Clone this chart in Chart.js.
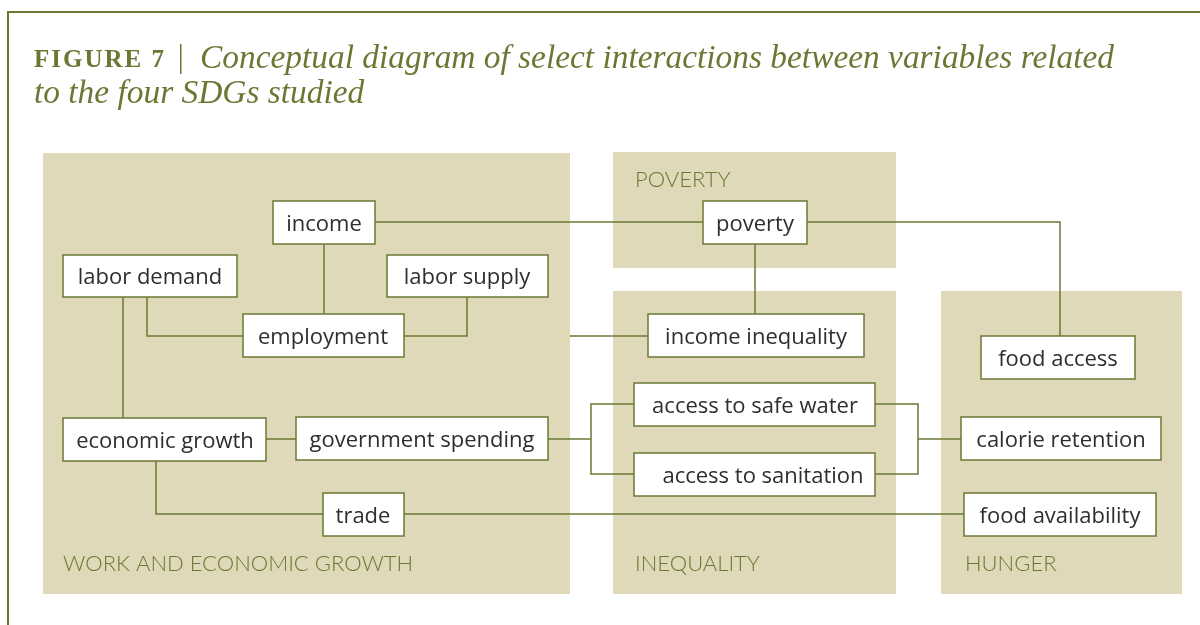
<!DOCTYPE html>
<html>
<head>
<meta charset="utf-8">
<script src="https://cdn.jsdelivr.net/npm/chart.js@4.4.1/dist/chart.umd.min.js"></script>
<style>
html, body { margin: 0; padding: 0; background: #fff; }
#wrap { position: relative; width: 1200px; height: 625px; overflow: hidden; }
</style>
</head>
<body>
<div id="wrap"><canvas id="myChart"></canvas></div>
<script>
// panels (groups of variables), in diagram units (0..1200 x 0..625)
var panelNames = ["WORK AND ECONOMIC GROWTH", "POVERTY", "INEQUALITY", "HUNGER"];
var panelLeft = [43, 613, 613, 941];
var panelRight = [570, 896, 896, 1182];
var panelTop = [153, 152, 291, 291];
var panelBottom = [594, 268, 594, 594];
var panelLabelX = [63, 635, 635, 965];
var panelLabelY = [564, 180, 564, 564];

// variables (boxes)
var nodeLabels = ["income", "poverty", "labor demand", "labor supply", "employment",
  "income inequality", "food access", "access to safe water", "calorie retention",
  "economic growth", "government spending", "access to sanitation", "trade", "food availability"];
var nodeLeft = [273, 703, 63, 387, 243, 648, 981, 634, 961, 63, 296, 634, 323, 964];
var nodeRight = [375, 807, 237, 548, 404, 864, 1135, 875, 1161, 266, 548, 875, 404, 1156];
var nodeTop = [201, 201, 255, 255, 314, 314, 336, 383, 417, 418, 417, 453, 493, 493];
var nodeBottom = [244, 244, 297, 297, 357, 357, 379, 426, 460, 461, 460, 496, 536, 536];
// label centre (the sanitation label sits off-centre in the original)
var nodeTextX = [324, 755, 150, 467, 323, 756, 1058, 755, 1061, 165, 422, 763, 363, 1060];

// links between variables, as polylines
var links = [
  [[375, 222], [703, 222]],
  [[807, 222], [1060, 222], [1060, 336]],
  [[755, 244], [755, 314]],
  [[324, 244], [324, 314]],
  [[147, 297], [147, 336], [243, 336]],
  [[467, 297], [467, 336], [404, 336]],
  [[123, 297], [123, 418]],
  [[570, 336], [648, 336]],
  [[266, 439], [296, 439]],
  [[548, 439], [591, 439]],
  [[634, 404], [591, 404], [591, 474], [634, 474]],
  [[875, 404], [918, 404], [918, 474], [875, 474]],
  [[918, 439], [961, 439]],
  [[156, 461], [156, 514], [323, 514]],
  [[404, 514], [964, 514]]
];

var titleBold = "FIGURE 7";
var titleLine1 = "Conceptual diagram of select interactions between variables related";
var titleLine2 = "to the four SDGs studied";

var olive = "#6b7834";
var panelFill = "#dfd9b9";

var datasets = links.map(function (pts) {
  return {
    data: pts.map(function (p) { return { x: p[0], y: p[1] }; }),
    showLine: true,
    borderColor: olive,
    borderWidth: 1.5,
    pointRadius: 0,
    tension: 0
  };
});

var diagramPlugin = {
  id: "diagram",
  beforeDatasetsDraw: function (chart) {
    var ctx = chart.ctx, xs = chart.scales.x, ys = chart.scales.y;
    ctx.save();
    // frame
    ctx.strokeStyle = olive;
    ctx.lineWidth = 2;
    ctx.beginPath();
    ctx.moveTo(xs.getPixelForValue(1200), ys.getPixelForValue(12));
    ctx.lineTo(xs.getPixelForValue(8), ys.getPixelForValue(12));
    ctx.lineTo(xs.getPixelForValue(8), ys.getPixelForValue(625));
    ctx.stroke();

    // title
    ctx.fillStyle = olive;
    ctx.textBaseline = "alphabetic";
    ctx.textAlign = "left";
    ctx.font = "bold 25px 'Liberation Serif'";
    ctx.letterSpacing = "2px";
    ctx.fillText(titleBold, xs.getPixelForValue(34), ys.getPixelForValue(67));
    ctx.letterSpacing = "0px";
    ctx.fillRect(xs.getPixelForValue(180), ys.getPixelForValue(44), 1.5, 30);
    var size = 30;
    ctx.font = "italic " + size + "px 'Liberation Serif'";
    var w = ctx.measureText(titleLine1).width;
    size = size * 913 / w;
    ctx.font = "italic " + size.toFixed(1) + "px 'Liberation Serif'";
    ctx.fillText(titleLine1, xs.getPixelForValue(200), ys.getPixelForValue(68));
    ctx.fillText(titleLine2, xs.getPixelForValue(34), ys.getPixelForValue(103));

    // panels
    for (var i = 0; i < panelNames.length; i++) {
      var x0 = xs.getPixelForValue(panelLeft[i]), x1 = xs.getPixelForValue(panelRight[i]);
      var y0 = ys.getPixelForValue(panelTop[i]), y1 = ys.getPixelForValue(panelBottom[i]);
      ctx.fillStyle = panelFill;
      ctx.fillRect(x0, y0, x1 - x0, y1 - y0);
      ctx.fillStyle = olive;
      ctx.font = "300 22px Lato";
      ctx.textBaseline = "middle";
      ctx.fillText(panelNames[i], xs.getPixelForValue(panelLabelX[i]), ys.getPixelForValue(panelLabelY[i]));
    }
    ctx.restore();
  },
  afterDatasetsDraw: function (chart) {
    var ctx = chart.ctx, xs = chart.scales.x, ys = chart.scales.y;
    ctx.save();
    for (var i = 0; i < nodeLabels.length; i++) {
      var x0 = xs.getPixelForValue(nodeLeft[i]), x1 = xs.getPixelForValue(nodeRight[i]);
      var y0 = ys.getPixelForValue(nodeTop[i]), y1 = ys.getPixelForValue(nodeBottom[i]);
      ctx.fillStyle = "#ffffff";
      ctx.fillRect(x0, y0, x1 - x0, y1 - y0);
      ctx.strokeStyle = olive;
      ctx.lineWidth = 1.5;
      ctx.strokeRect(x0, y0, x1 - x0, y1 - y0);
      ctx.fillStyle = "#2e2e2e";
      ctx.font = "22px 'Open Sans'";
      ctx.textAlign = "center";
      ctx.textBaseline = "middle";
      ctx.fillText(nodeLabels[i], xs.getPixelForValue(nodeTextX[i]), (y0 + y1) / 2 + 2);
    }
    ctx.restore();
  }
};

new Chart("myChart", {
  type: "scatter",
  data: { datasets: datasets },
  options: {
    responsive: true,
    maintainAspectRatio: false,
    animation: false,
    layout: { padding: 0 },
    plugins: { legend: { display: false }, tooltip: { enabled: false }, title: { display: false } },
    scales: {
      x: { type: "linear", min: 0, max: 1200, display: false },
      y: { type: "linear", min: 0, max: 625, reverse: true, display: false }
    }
  },
  plugins: [diagramPlugin]
});
</script>
</body>
</html>
